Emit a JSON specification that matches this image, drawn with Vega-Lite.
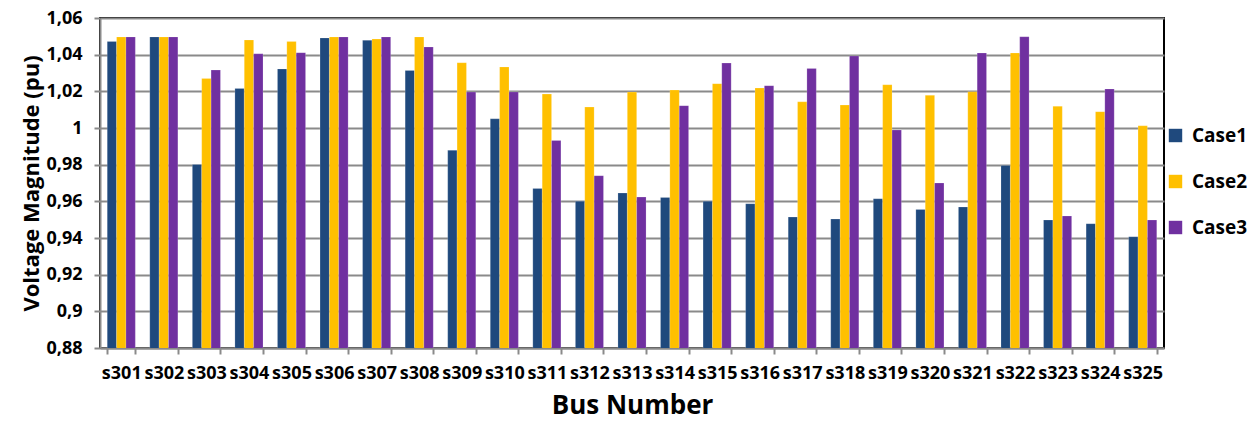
{
  "$schema": "https://vega.github.io/schema/vega-lite/v6.json",
  "width": 1064,
  "height": 330,
  "autosize": {"type": "none"},
  "padding": {"left": 100, "top": 18, "right": 96, "bottom": 82},
  "background": "white",
  "config": {
    "font": "Open Sans",
    "view": {"stroke": "#000000", "strokeWidth": 2},
    "axis": {"labelFont": "Open Sans", "titleFont": "Open Sans", "labelFontWeight": 700, "titleFontWeight": 700, "labelColor": "#000", "titleColor": "#000"},
    "legend": {"labelFont": "Open Sans", "labelFontWeight": 700, "labelColor": "#000"}
  },
  "data": {"values": [
    {"bus":"s301","case":"Case1","v":1.0472},{"bus":"s301","case":"Case2","v":1.0497},{"bus":"s301","case":"Case3","v":1.0497},
    {"bus":"s302","case":"Case1","v":1.0497},{"bus":"s302","case":"Case2","v":1.0497},{"bus":"s302","case":"Case3","v":1.0497},
    {"bus":"s303","case":"Case1","v":0.9801},{"bus":"s303","case":"Case2","v":1.027},{"bus":"s303","case":"Case3","v":1.0316},
    {"bus":"s304","case":"Case1","v":1.0216},{"bus":"s304","case":"Case2","v":1.048},{"bus":"s304","case":"Case3","v":1.0405},
    {"bus":"s305","case":"Case1","v":1.0322},{"bus":"s305","case":"Case2","v":1.0472},{"bus":"s305","case":"Case3","v":1.0411},
    {"bus":"s306","case":"Case1","v":1.0491},{"bus":"s306","case":"Case2","v":1.0497},{"bus":"s306","case":"Case3","v":1.0497},
    {"bus":"s307","case":"Case1","v":1.0478},{"bus":"s307","case":"Case2","v":1.0485},{"bus":"s307","case":"Case3","v":1.0497},
    {"bus":"s308","case":"Case1","v":1.0314},{"bus":"s308","case":"Case2","v":1.0497},{"bus":"s308","case":"Case3","v":1.0442},
    {"bus":"s309","case":"Case1","v":0.9878},{"bus":"s309","case":"Case2","v":1.0356},{"bus":"s309","case":"Case3","v":1.0196},
    {"bus":"s310","case":"Case1","v":1.005},{"bus":"s310","case":"Case2","v":1.0333},{"bus":"s310","case":"Case3","v":1.0197},
    {"bus":"s311","case":"Case1","v":0.967},{"bus":"s311","case":"Case2","v":1.0185},{"bus":"s311","case":"Case3","v":0.9932},
    {"bus":"s312","case":"Case1","v":0.96},{"bus":"s312","case":"Case2","v":1.0114},{"bus":"s312","case":"Case3","v":0.974},
    {"bus":"s313","case":"Case1","v":0.9645},{"bus":"s313","case":"Case2","v":1.0196},{"bus":"s313","case":"Case3","v":0.9623},
    {"bus":"s314","case":"Case1","v":0.9621},{"bus":"s314","case":"Case2","v":1.0207},{"bus":"s314","case":"Case3","v":1.0122},
    {"bus":"s315","case":"Case1","v":0.96},{"bus":"s315","case":"Case2","v":1.0242},{"bus":"s315","case":"Case3","v":1.0354},
    {"bus":"s316","case":"Case1","v":0.9587},{"bus":"s316","case":"Case2","v":1.0218},{"bus":"s316","case":"Case3","v":1.0231},
    {"bus":"s317","case":"Case1","v":0.9514},{"bus":"s317","case":"Case2","v":1.0143},{"bus":"s317","case":"Case3","v":1.0325},
    {"bus":"s318","case":"Case1","v":0.9503},{"bus":"s318","case":"Case2","v":1.0125},{"bus":"s318","case":"Case3","v":1.0393},
    {"bus":"s319","case":"Case1","v":0.9614},{"bus":"s319","case":"Case2","v":1.0236},{"bus":"s319","case":"Case3","v":0.9989},
    {"bus":"s320","case":"Case1","v":0.9556},{"bus":"s320","case":"Case2","v":1.0178},{"bus":"s320","case":"Case3","v":0.97},
    {"bus":"s321","case":"Case1","v":0.9569},{"bus":"s321","case":"Case2","v":1.0198},{"bus":"s321","case":"Case3","v":1.0409},
    {"bus":"s322","case":"Case1","v":0.9796},{"bus":"s322","case":"Case2","v":1.0409},{"bus":"s322","case":"Case3","v":1.0498},
    {"bus":"s323","case":"Case1","v":0.9498},{"bus":"s323","case":"Case2","v":1.0118},{"bus":"s323","case":"Case3","v":0.952},
    {"bus":"s324","case":"Case1","v":0.9478},{"bus":"s324","case":"Case2","v":1.0089},{"bus":"s324","case":"Case3","v":1.0213},
    {"bus":"s325","case":"Case1","v":0.9407},{"bus":"s325","case":"Case2","v":1.0012},{"bus":"s325","case":"Case3","v":0.9498}
  ]},
  "mark": {"type": "bar", "clip": true, "stroke": "#ffffff", "strokeOpacity": 0.35, "strokeWidth": 0.5},
  "encoding": {
    "x": {
      "field": "bus", "type": "nominal", "sort": null,
      "scale": {"paddingInner": 0.34, "paddingOuter": 0.17},
      "axis": {
        "title": "Bus Number", "titleFontSize": 26, "titlePadding": 10,
        "labelAngle": 0, "labelFontSize": 18, "labelPadding": 10,
        "tickBand": "extent", "tickSize": 6, "tickColor": "#8a8a8a", "tickWidth": 2,
        "domainColor": "#8a8a8a", "domainWidth": 2, "grid": false
      }
    },
    "xOffset": {"field": "case", "type": "nominal", "scale": {"paddingInner": 0, "paddingOuter": 0}},
    "y": {
      "field": "v", "type": "quantitative",
      "scale": {"domain": [0.88, 1.06], "zero": false, "nice": false},
      "axis": {
        "title": "Voltage Magnitude (pu)", "titleFontSize": 22, "titlePadding": 2,
        "values": [0.88, 0.9, 0.92, 0.94, 0.96, 0.98, 1, 1.02, 1.04, 1.06],
        "labelExpr": "replace(format(datum.value, '.2~f'), '.', ',')",
        "labelFontSize": 18, "labelPadding": 12,
        "tickSize": 6, "tickColor": "#8a8a8a", "tickWidth": 2,
        "domainColor": "#8a8a8a", "domainWidth": 2,
        "grid": true, "gridColor": "#8a8a8a", "gridWidth": 2
      }
    },
    "color": {
      "field": "case", "type": "nominal",
      "scale": {"domain": ["Case1", "Case2", "Case3"], "range": ["#1F497D", "#FFC000", "#7030A0"]},
      "legend": {
        "title": null, "orient": "none", "legendX": 1066, "legendY": 108,
        "symbolType": "square", "symbolSize": 180, "symbolStrokeWidth": 0,
        "labelFontSize": 19, "rowPadding": 26, "symbolOffset": 0, "labelOffset": 7
      }
    }
  }
}
